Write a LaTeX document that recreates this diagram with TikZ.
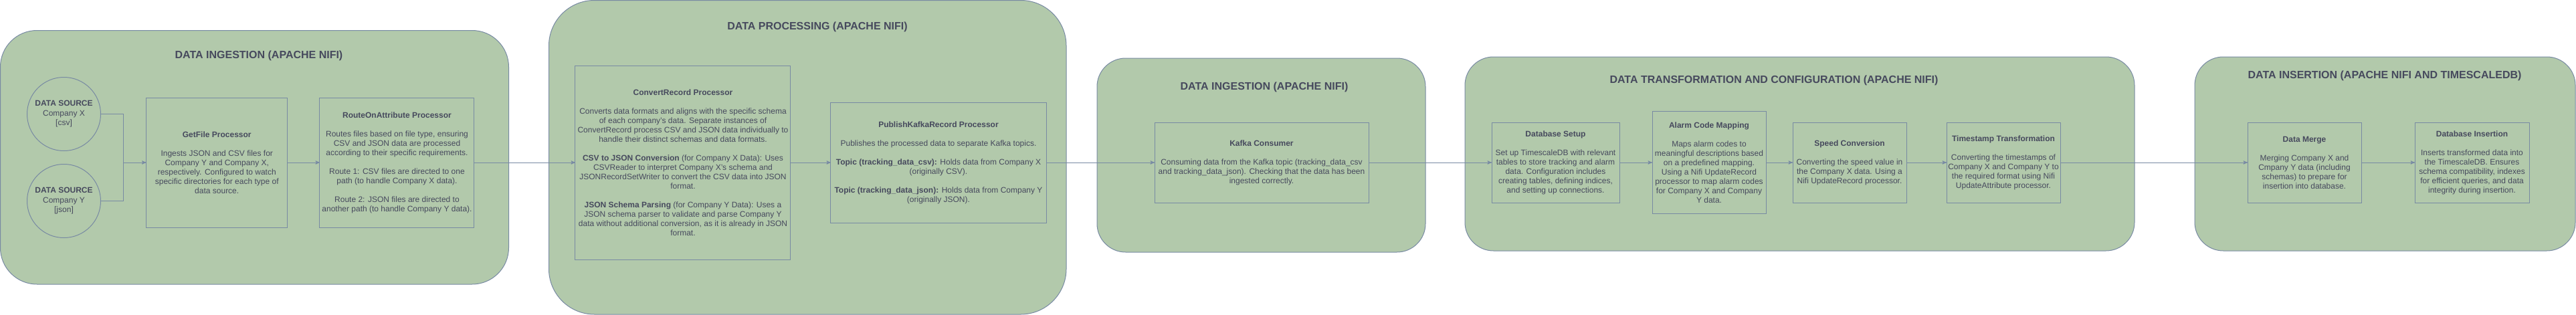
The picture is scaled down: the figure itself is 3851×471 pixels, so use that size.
\documentclass[tikz,border=0pt]{standalone}
\usepackage{fontspec}
\setmainfont{Liberation Sans}
\usetikzlibrary{arrows}
\usetikzlibrary{positioning}

\definecolor{sagefill}{HTML}{B2C9AB}
\definecolor{sagedraw}{HTML}{788AA3}
\definecolor{sagetext}{HTML}{46495D}

\begin{document}
\begin{tikzpicture}[>=stealth', x=0.75pt, y=-0.75pt,
    group box/.style={draw=sagedraw, fill=sagefill, line width=0.75pt},
    group title/.style={text=sagetext, font=\fontsize{12}{14.4}\selectfont\bfseries},
    main node/.style={rectangle, draw=sagedraw, line width=0.75pt, text=sagetext, inner sep=0pt, outer sep=0pt, align=center, font=\fontsize{9}{10.5}\selectfont},
    wh/.style 2 args={minimum width=#1, minimum height=#2},
    source node/.style={circle, draw=sagedraw, line width=0.75pt, text=sagetext, inner sep=0pt, minimum size=82.5pt, align=center, font=\fontsize{9}{10.9}\selectfont},
    link/.style={draw=sagedraw, line width=0.75pt},
    flow/.style={link, ->}]

    \useasboundingbox (0,0) rectangle (3851,471);

    % stage containers
    \draw[group box, rounded corners=41pt] (0.5,45.5) rectangle (760.5,425);
    \draw[group box, rounded corners=51pt] (820.5,0.5) rectangle (1594,470);
    \draw[group box, rounded corners=32pt] (1640,87) rectangle (2131,377);
    \draw[group box, rounded corners=32pt] (2190,85) rectangle (3191,375);
    \draw[group box, rounded corners=32pt] (3281,85) rectangle (3850,375);

    \node[group title] (t1) at (387,83) {DATA INGESTION (APACHE NIFI)};
    \node[group title] (t2) at (1222,40) {DATA PROCESSING (APACHE NIFI)};
    \node[group title] (t3) at (1890,130) {DATA INGESTION (APACHE NIFI)};
    \node[group title] (t4) at (2652,120) {DATA TRANSFORMATION AND CONFIGURATION (APACHE NIFI)};
    \node[group title] (t5) at (3565,113) {DATA INSERTION (APACHE NIFI AND TIMESCALEDB)};

    % sources
    \node[source node] (srcx) at (95.5,170.5) {\textbf{DATA SOURCE}\\Company X\\{[csv]}};
    \node[source node] (srcy) at (95.5,300.5) {\textbf{DATA SOURCE}\\Company Y\\{[json]}};
    \coordinate (srcjoin) at (184.5,243);

    % nifi ingestion
    \node[main node, wh={158.6pt}{145.5pt}] (getfile) at (324.25,243)
        {\textbf{GetFile Processor}\\[10.5pt]
         Ingests JSON and CSV files for\\
         Company Y and Company X,\\
         respectively. Configured to watch\\
         specific directories for each type of\\
         data source.};
    \node[main node, wh={173.25pt}{145.5pt}, right=36pt of getfile] (route)
        {\textbf{RouteOnAttribute Processor}\\[10.5pt]
         Routes files based on file type, ensuring\\
         CSV and JSON data are processed\\
         according to their specific requirements.\\[10.5pt]
         Route 1: CSV files are directed to one\\
         path (to handle Company X data).\\[10.5pt]
         Route 2: JSON files are directed to\\
         another path (to handle Company Y data).};

    % nifi processing
    \node[main node, wh={241.5pt}{217.5pt}, right=113.25pt of route] (convert)
        {\textbf{ConvertRecord Processor}\\[10.5pt]
         Converts data formats and aligns with the specific schema\\
         of each company’s data. Separate instances of\\
         ConvertRecord process CSV and JSON data individually to\\
         handle their distinct schemas and data formats.\\[10.5pt]
         \textbf{CSV to JSON Conversion} (for Company X Data): Uses\\
         CSVReader to interpret Company X’s schema and\\
         JSONRecordSetWriter to convert the CSV data into JSON\\
         format.\\[10.5pt]
         \textbf{JSON Schema Parsing} (for Company Y Data): Uses a\\
         JSON schema parser to validate and parse Company Y\\
         data without additional conversion, as it is already in JSON\\
         format.};
    \node[main node, wh={241.5pt}{135pt}, right=45pt of convert] (publish)
        {\textbf{PublishKafkaRecord Processor}\\[10.5pt]
         Publishes the processed data to separate Kafka topics.\\[10.5pt]
         \textbf{Topic (tracking\_data\_csv):} Holds data from Company X\\
         (originally CSV).\\[10.5pt]
         \textbf{Topic (tracking\_data\_json):} Holds data from Company Y\\
         (originally JSON).};

    % kafka
    \node[main node, wh={240pt}{90pt}, right=121.5pt of publish] (kafka)
        {\textbf{Kafka Consumer}\\[10.5pt]
         Consuming data from the Kafka topic (tracking\_data\_csv\\
         and tracking\_data\_json). Checking that the data has been\\
         ingested correctly.};

    % transformation
    \node[main node, wh={143.25pt}{90pt}, right=138pt of kafka] (dbsetup)
        {\textbf{Database Setup}\\[10.5pt]
         Set up TimescaleDB with relevant\\
         tables to store tracking and alarm\\
         data. Configuration includes\\
         creating tables, defining indices,\\
         and setting up connections.};
    \node[main node, wh={127.5pt}{114.75pt}, right=36.75pt of dbsetup] (alarm)
        {\textbf{Alarm Code Mapping}\\[10.5pt]
         Maps alarm codes to\\
         meaningful descriptions based\\
         on a predefined mapping.\\
         Using a Nifi UpdateRecord\\
         processor to map alarm codes\\
         for Company X and Company\\
         Y data.};
    \node[main node, wh={127.5pt}{90pt}, right=30pt of alarm] (speed)
        {\textbf{Speed Conversion}\\[10.5pt]
         Converting the speed value in\\
         the Company X data. Using a\\
         Nifi UpdateRecord processor.};
    \node[main node, wh={127.5pt}{90pt}, right=45pt of speed] (stamp)
        {\textbf{Timestamp Transformation}\\[10.5pt]
         Converting the timestamps of\\
         Company X and Company Y to\\
         the required format using Nifi\\
         UpdateAttribute processor.};

    % insertion
    \node[main node, wh={127.5pt}{90pt}, right=210pt of stamp] (merge)
        {\textbf{Data Merge}\\[10.5pt]
         Merging Company X and\\
         Cmpany Y data (including\\
         schemas) to prepare for\\
         insertion into database.};
    \node[main node, wh={128.25pt}{90pt}, right=60pt of merge] (insert)
        {\textbf{Database Insertion}\\[10.5pt]
         Inserts transformed data into\\
         the TimescaleDB. Ensures\\
         schema compatibility, indexes\\
         for efficient queries, and data\\
         integrity during insertion.};

    % connectors
    \draw[link] (srcx.east) -| (srcjoin);
    \draw[link] (srcy.east) -| (srcjoin);
    \draw[flow] (srcjoin) -- (getfile);
    \draw[flow] (getfile) -- (route);
    \draw[flow] (route) -- (convert);
    \draw[flow] (convert) -- (publish);
    \draw[flow] (publish) -- (kafka);
    \draw[flow] (kafka) -- (dbsetup);
    \draw[flow] (dbsetup) -- (alarm);
    \draw[flow] (alarm) -- (speed);
    \draw[flow] (speed) -- (stamp);
    \draw[flow] (stamp) -- (merge);
    \draw[flow] (merge) -- (insert);

\end{tikzpicture}
\end{document}
